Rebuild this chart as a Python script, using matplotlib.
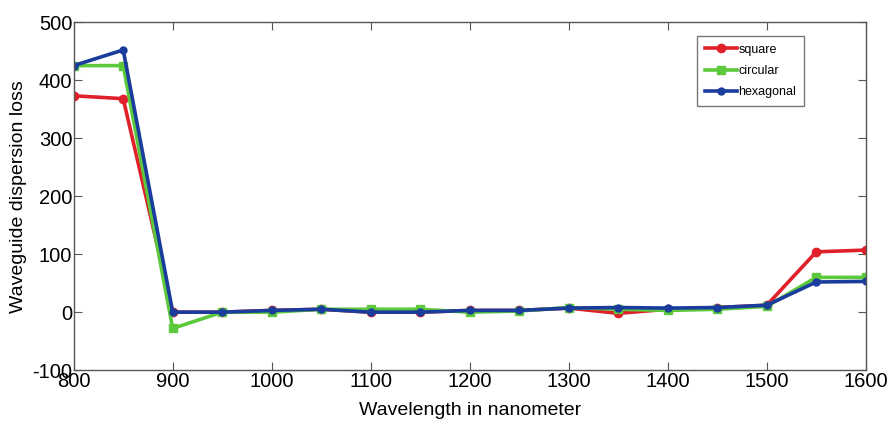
import matplotlib
matplotlib.use("Agg")
import matplotlib.pyplot as plt

plt.rcParams['font.family'] = ['Liberation Sans', 'DejaVu Sans']
plt.rcParams['axes.unicode_minus'] = False

wavelength = [800, 850, 900, 950, 1000, 1050, 1100, 1150, 1200, 1250,
              1300, 1350, 1400, 1450, 1500, 1550, 1600]
square = [373, 368, 0, 0, 3, 5, 0, 0, 3, 3, 7, -2, 5, 8, 12, 104, 107]
circular = [425, 425, -28, 0, 0, 5, 5, 5, 0, 2, 8, 5, 3, 5, 10, 60, 60]
hexagonal = [425, 452, 0, 0, 3, 5, 0, 0, 3, 3, 7, 8, 7, 8, 12, 52, 53]

fig = plt.figure(figsize=(8.88, 4.25), dpi=100)
ax = fig.add_axes([0.083, 0.129, 0.892, 0.819])

ax.plot(wavelength, square, color='#e0202a', lw=2.6, marker='o', ms=6, label='square')
ax.plot(wavelength, circular, color='#5cc83c', lw=2.6, marker='s', ms=6, label='circular')
ax.plot(wavelength, hexagonal, color='#1a3c9c', lw=2.6, marker='o', ms=5, label='hexagonal')

ax.set_xlim(800, 1600)
ax.set_ylim(-100, 500)
ax.set_xticks(range(800, 1601, 100))
ax.set_yticks(range(-100, 501, 100))
ax.tick_params(direction='in', top=True, right=True, labelsize=14.5, length=6,
               color='#555555', pad=1)
for s in ax.spines.values():
    s.set_color('#555555')
    s.set_linewidth(1.0)

ax.set_xlabel('Wavelength in nanometer', fontsize=14, labelpad=8)
ax.set_ylabel('Waveguide dispersion loss', fontsize=14, labelpad=4)

leg = ax.legend(loc='upper left', bbox_to_anchor=(0.787, 0.96), fontsize=9,
                frameon=True, fancybox=False, edgecolor='#555555',
                handlelength=2.6, handletextpad=0.1, borderpad=0.6,
                labelspacing=0.75, borderaxespad=0)
leg.get_frame().set_linewidth(1.0)

fig.savefig('out.png', dpi=100)
